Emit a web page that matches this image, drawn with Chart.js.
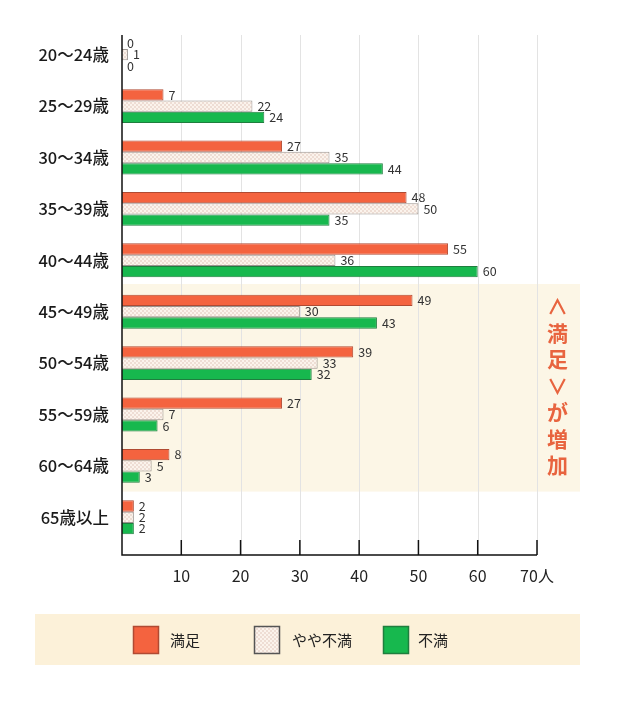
<!DOCTYPE html>
<html><head><meta charset="utf-8">
<script src="https://cdn.jsdelivr.net/npm/chart.js@4"></script>
<style>html,body{margin:0;padding:0;background:#fff;}</style>
</head><body>
<canvas id="c" width="617" height="702"></canvas>
<script>
// ---- data ----
const categories = ['20～24歳','25～29歳','30～34歳','35～39歳','40～44歳','45～49歳','50～54歳','55～59歳','60～64歳','65歳以上'];
const seriesNames = ['満足','やや不満','不満'];
const satisfied = [0,7,27,48,55,49,39,27,8,2];
const somewhatDissatisfied = [1,22,35,50,36,30,33,7,5,2];
const dissatisfied = [0,24,44,35,60,43,32,6,3,2];
const xTicks = [10,20,30,40,50,60,70];
const xUnit = '人';
const highlightFrom = '45～49歳';
const highlightTo = '60～64歳';
const highlightText = ['∧','満','足','∨','が','増','加'];

// ---- styles ----
const FONT = '"Noto Sans CJK JP", "Noto Sans", sans-serif';
const RED = '#F4633F', RED_B = '#B04A32';
const GREEN = '#17B84E', GREEN_B = '#1F7E3E';
const PAT_B = '#9A948F';

function makePattern() {
  const t = document.createElement('canvas');
  t.width = 4; t.height = 4;
  const g = t.getContext('2d');
  g.fillStyle = '#FBF3EC'; g.fillRect(0,0,4,4);
  g.fillStyle = '#EEDDD4';
  g.fillRect(0,0,2,2); g.fillRect(2,2,2,2);
  return document.getElementById('c').getContext('2d').createPattern(t, 'repeat');
}
const PATTERN = makePattern();

const drawPlugin = {
  id: 'custom',
  beforeDatasetsDraw(chart) {
    const {ctx, chartArea, scales: {x, y}} = chart;
    const i0 = categories.indexOf(highlightFrom), i1 = categories.indexOf(highlightTo);
    const yTop = y.getPixelForValue(i0 - 0.5) - 2, yBot = y.getPixelForValue(i1 + 0.5);
    const x0 = x.getPixelForValue(0);
    const bandRight = chart.width - 37;
    const axisY = chartArea.bottom + 12;
    ctx.save();
    ctx.fillStyle = '#FCF6E6';
    ctx.fillRect(x0, yTop, bandRight - x0, yBot - yTop);
    // grid
    ctx.strokeStyle = '#E3E3E3'; ctx.lineWidth = 1;
    xTicks.forEach(t => {
      const px = Math.round(x.getPixelForValue(t)) + 0.5;
      ctx.beginPath(); ctx.moveTo(px, chartArea.top + 6); ctx.lineTo(px, axisY); ctx.stroke();
    });
    // vertical text
    ctx.fillStyle = '#E8643F';
    ctx.font = 'bold 21px ' + FONT;
    ctx.textAlign = 'center'; ctx.textBaseline = 'middle';
    const cx = (chartArea.right + bandRight) / 2 - 1;
    const cy = (yTop + yBot) / 2 - 2;
    const step = 26.5;
    highlightText.forEach((ch, k) => {
      ctx.fillText(ch, cx, cy + (k - (highlightText.length - 1) / 2) * step);
    });
    ctx.restore();
  },
  afterDatasetsDraw(chart) {
    const {ctx, chartArea, scales: {x}} = chart;
    ctx.save();
    // value labels
    ctx.font = '12.5px ' + FONT;
    ctx.fillStyle = '#333';
    ctx.textAlign = 'left'; ctx.textBaseline = 'middle';
    chart.data.datasets.forEach((ds, i) => {
      chart.getDatasetMeta(i).data.forEach((bar, j) => {
        ctx.fillText(String(ds.data[j]), bar.x + 5, bar.y);
      });
    });
    // axes
    const axisY = chartArea.bottom + 12;
    const x0 = x.getPixelForValue(0);
    ctx.strokeStyle = '#111'; ctx.lineWidth = 1.5;
    ctx.beginPath();
    ctx.moveTo(x0, chartArea.top + 6); ctx.lineTo(x0, axisY);
    ctx.lineTo(x.getPixelForValue(xTicks[xTicks.length - 1]), axisY);
    ctx.stroke();
    xTicks.forEach(t => {
      const px = x.getPixelForValue(t);
      ctx.beginPath(); ctx.moveTo(px, axisY - 15); ctx.lineTo(px, axisY); ctx.stroke();
    });
    ctx.restore();
  },
  afterDraw(chart) {
    const {ctx} = chart;
    ctx.save();
    ctx.fillStyle = '#FCF1D9';
    ctx.fillRect(35, 614, 545, 51);
    const boxX = [133, 254, 383], textX = [170, 292, 418];
    ctx.font = '15px ' + FONT;
    ctx.textAlign = 'left'; ctx.textBaseline = 'middle';
    chart.data.datasets.forEach((ds, i) => {
      ctx.fillStyle = ds.backgroundColor;
      ctx.fillRect(boxX[i], 626, 26, 28);
      ctx.strokeStyle = i === 1 ? '#555' : ds.borderColor;
      ctx.lineWidth = 1.5;
      ctx.strokeRect(boxX[i] + 0.5, 626.5, 25, 27);
      ctx.fillStyle = '#222';
      ctx.fillText(ds.label, textX[i], 640);
    });
    ctx.restore();
  }
};

new Chart(document.getElementById('c'), {
  type: 'bar',
  data: {
    labels: categories,
    datasets: [
      {label: seriesNames[0], data: satisfied, backgroundColor: RED, borderColor: RED_B, borderWidth: 1},
      {label: seriesNames[1], data: somewhatDissatisfied, backgroundColor: PATTERN, borderColor: PAT_B, borderWidth: 1},
      {label: seriesNames[2], data: dissatisfied, backgroundColor: GREEN, borderColor: GREEN_B, borderWidth: 1}
    ]
  },
  options: {
    indexAxis: 'y',
    responsive: false,
    animation: false,
    devicePixelRatio: 1,
    categoryPercentage: 0.66,
    barPercentage: 1,
    layout: {padding: {top: 29, right: 80, left: 0, bottom: 0}},
    plugins: {legend: {display: false}, tooltip: {enabled: false}},
    scales: {
      x: {
        type: 'linear', min: 0, max: 70, position: 'bottom',
        grid: {display: false, drawTicks: false},
        border: {display: false},
        afterBuildTicks: s => { s.ticks = [0].concat(xTicks).map(v => ({value: v})); },
        ticks: {
          padding: 23,
          color: '#222',
          font: {family: FONT, size: 16},
          callback: v => v === 0 ? '' : (v === xTicks[xTicks.length - 1] ? v + xUnit : String(v))
        },
        afterFit: s => { s.height = 702 - 543; }
      },
      y: {
        type: 'category',
        grid: {display: false, drawTicks: false},
        border: {display: false},
        ticks: {padding: 13, color: '#1a1a1a', font: {family: FONT, size: 16.5, weight: '500'}},
        afterFit: s => { s.width = 122; }
      }
    }
  },
  plugins: [drawPlugin]
});
</script>
</body></html>
